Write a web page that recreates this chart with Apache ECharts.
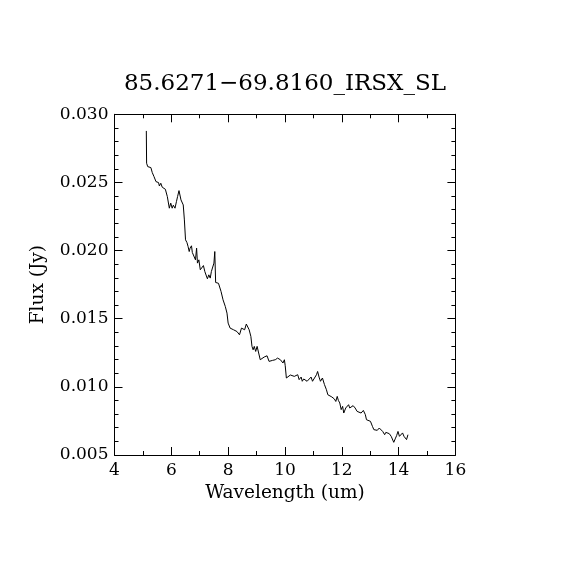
<!DOCTYPE html>
<html>
<head>
<meta charset="utf-8">
<script src="https://cdn.jsdelivr.net/npm/echarts@6/dist/echarts.min.js"></script>
<style>
  html, body { margin: 0; padding: 0; background: #fff; }
  #chart { width: 570px; height: 570px; }
</style>
</head>
<body>
<div id="chart"></div>
<script>
// spectrum
var wavelength = [
  5.12, 5.13, 5.17, 5.28, 5.33, 5.39, 5.46, 5.55, 5.58, 5.63, 5.68, 5.72, 5.79, 5.86, 5.93, 5.98,
  6.03, 6.07, 6.13, 6.18, 6.22, 6.27, 6.29, 6.34, 6.38, 6.42, 6.46, 6.50, 6.55, 6.59, 6.63, 6.66,
  6.71, 6.74, 6.80, 6.85, 6.89, 6.92, 6.97, 7.02, 7.09, 7.13, 7.18, 7.23, 7.27, 7.32, 7.37, 7.41,
  7.46, 7.50, 7.53, 7.56, 7.66, 7.70, 7.75, 7.82, 7.90, 7.96, 8.00, 8.07, 8.19, 8.31, 8.40, 8.47,
  8.54, 8.58, 8.64, 8.70, 8.74, 8.80, 8.84, 8.88, 8.92, 8.97, 9.02, 9.07, 9.13, 9.20, 9.27, 9.37,
  9.44, 9.49, 9.56, 9.66, 9.74, 9.84, 9.93, 9.98, 10.01, 10.05, 10.12, 10.19, 10.26, 10.33, 10.38, 10.45,
  10.50, 10.57, 10.61, 10.66, 10.73, 10.78, 10.85, 10.92, 10.97, 11.04, 11.11, 11.15, 11.20, 11.25, 11.32, 11.39,
  11.46, 11.51, 11.58, 11.65, 11.70, 11.74, 11.79, 11.84, 11.88, 11.93, 11.98, 12.03, 12.07, 12.14, 12.19, 12.24,
  12.28, 12.33, 12.40, 12.47, 12.54, 12.61, 12.68, 12.76, 12.83, 12.87, 12.94, 13.01, 13.08, 13.13, 13.20, 13.25,
  13.32, 13.37, 13.44, 13.51, 13.55, 13.60, 13.67, 13.74, 13.79, 13.83, 13.88, 13.93, 13.98, 14.03, 14.07, 14.14,
  14.19, 14.24, 14.28, 14.33
];
var flux = [
  0.02878, 0.02641, 0.02616, 0.02609, 0.02572, 0.02543, 0.02506, 0.02499, 0.02474, 0.02494, 0.02465, 0.02465, 0.02450, 0.02396, 0.02311, 0.02348,
  0.02311, 0.02333, 0.02311, 0.02359, 0.02396, 0.02440, 0.02445, 0.02372, 0.02367, 0.02335, 0.02225, 0.02079, 0.02059, 0.02030, 0.01993, 0.02018,
  0.02035, 0.01986, 0.01981, 0.01932, 0.02018, 0.01908, 0.01932, 0.01859, 0.01854, 0.01890, 0.01846, 0.01834, 0.01793, 0.01822, 0.01798, 0.01846,
  0.01859, 0.01908, 0.01993, 0.01766, 0.01760, 0.01749, 0.01700, 0.01639, 0.01590, 0.01541, 0.01468, 0.01431, 0.01419, 0.01406, 0.01382, 0.01431,
  0.01443, 0.01419, 0.01461, 0.01448, 0.01419, 0.01370, 0.01297, 0.01272, 0.01297, 0.01260, 0.01297, 0.01297, 0.01199, 0.01211, 0.01219, 0.01228,
  0.01187, 0.01175, 0.01194, 0.01199, 0.01211, 0.01199, 0.01175, 0.01199, 0.01155, 0.01065, 0.01077, 0.01087, 0.01096, 0.01077, 0.01065, 0.01089,
  0.01053, 0.01072, 0.01041, 0.01058, 0.01065, 0.01041, 0.01053, 0.01072, 0.01041, 0.01041, 0.01089, 0.01113, 0.01072, 0.01041, 0.01065, 0.01017,
  0.00979, 0.00942, 0.00930, 0.00926, 0.00918, 0.00911, 0.00893, 0.00930, 0.00901, 0.00882, 0.00833, 0.00857, 0.00808, 0.00845, 0.00833, 0.00869,
  0.00845, 0.00852, 0.00862, 0.00845, 0.00820, 0.00813, 0.00808, 0.00827, 0.00796, 0.00759, 0.00747, 0.00747, 0.00710, 0.00686, 0.00673, 0.00681,
  0.00698, 0.00686, 0.00673, 0.00649, 0.00666, 0.00657, 0.00657, 0.00637, 0.00625, 0.00593, 0.00618, 0.00642, 0.00673, 0.00637, 0.00632, 0.00662,
  0.00637, 0.00632, 0.00613, 0.00649
];
var titleText = '85.6271\u221269.8160_IRSX_SL';

var points = wavelength.map(function (w, i) { return [w, flux[i]]; });

var font = 'DejaVu Serif';
var black = '#000';

function xAxisDef(pos, showLabel) {
  return {
    type: 'value', position: pos, min: 4, max: 16, interval: 2,
    name: showLabel ? 'Wavelength (um)' : '', nameLocation: 'middle', nameGap: 26,
    nameTextStyle: { fontFamily: font, fontSize: 18.5, color: black },
    axisLine: { show: true, onZero: false, lineStyle: { color: black, width: 1 } },
    axisTick: { show: true, inside: true, length: 8, lineStyle: { color: black } },
    minorTick: { show: true, splitNumber: 2, length: 4, lineStyle: { color: black } },
    axisLabel: { show: showLabel, margin: 7, fontFamily: font, fontSize: 17, color: black },
    splitLine: { show: false }
  };
}

function yAxisDef(pos, showLabel) {
  return {
    type: 'value', position: pos, min: 0.005, max: 0.030, interval: 0.005,
    name: showLabel ? 'Flux (Jy)' : '', nameLocation: 'middle', nameGap: 67,
    nameTextStyle: { fontFamily: font, fontSize: 18.5, color: black },
    axisLine: { show: true, onZero: false, lineStyle: { color: black, width: 1 } },
    axisTick: { show: true, inside: true, length: 8, lineStyle: { color: black } },
    minorTick: { show: true, splitNumber: 5, length: 4, lineStyle: { color: black } },
    axisLabel: {
      show: showLabel, margin: 6, fontFamily: font, fontSize: 17, color: black,
      formatter: function (v) { return v.toFixed(3); }
    },
    splitLine: { show: false }
  };
}

var chart = echarts.init(document.getElementById('chart'));
chart.setOption({
  backgroundColor: '#fff',
  animation: false,
  title: {
    text: titleText, left: 'center', top: 68,
    textStyle: { fontFamily: font, fontSize: 23, fontWeight: 'normal', color: black }
  },
  grid: { left: 114.5, right: 114.6, top: 114.3, bottom: 115 },
  xAxis: [xAxisDef('bottom', true), xAxisDef('top', false)],
  yAxis: [yAxisDef('left', true), yAxisDef('right', false)],
  series: [{
    type: 'line', data: points, xAxisIndex: 0, yAxisIndex: 0,
    symbol: 'none', lineStyle: { color: black, width: 1 }
  }]
});
</script>
</body>
</html>
